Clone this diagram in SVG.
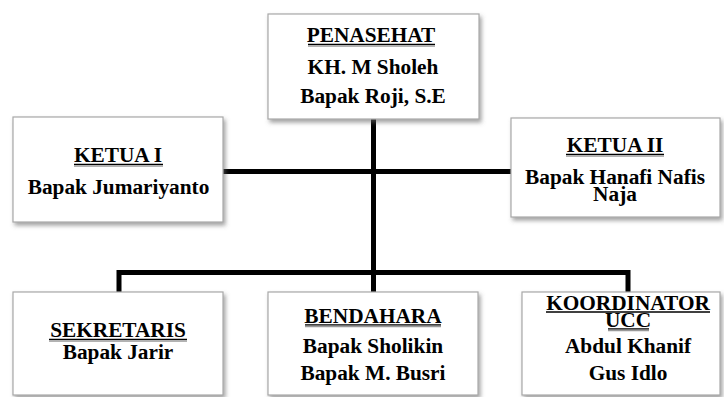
<svg xmlns="http://www.w3.org/2000/svg" width="724" height="397" viewBox="0 0 724 397">
<defs>
<filter id="sh" x="-10%" y="-10%" width="125%" height="130%">
<feDropShadow dx="2" dy="3" stdDeviation="2" flood-color="#666" flood-opacity="0.6"/>
</filter>
<style>
.box{fill:#fff;stroke:#a8a8a8;stroke-width:1.2;filter:url(#sh)}
.t{font-family:"Liberation Serif","Times New Roman",serif;font-weight:bold;font-size:20.3px;fill:#000;text-anchor:middle}
.ul{stroke:#000;stroke-width:1.3}
.us{stroke:#999;stroke-width:1.6}
.c{fill:none;stroke:#000;stroke-width:5;stroke-linejoin:miter;stroke-linecap:butt}
</style>
</defs>
<rect width="724" height="397" fill="#fff"/>
<g id="connectors">
<path class="c" d="M373.5,119 V292"/>
<path class="c" d="M223,171.5 H511"/>
<path class="c" d="M119,292 V272.5 H628 V292"/>
</g>
<g id="penasehat">
<rect class="box" x="268" y="14" width="211" height="105"/>
<text class="t" transform="translate(371,42) scale(1.05,1)">PENASEHAT</text>
<line class="us" x1="308" y1="46" x2="435" y2="46"/>
<line class="ul" x1="308" y1="44.3" x2="435" y2="44.3"/>
<text class="t" transform="translate(373,74) scale(1.05,1)">KH. M Sholeh</text>
<text class="t" transform="translate(373,103) scale(1.05,1)">Bapak Roji, S.E</text>
</g>
<g id="ketua1">
<rect class="box" x="13" y="117" width="210" height="105"/>
<text class="t" transform="translate(118,162) scale(1.05,1)">KETUA I</text>
<line class="us" x1="74" y1="166" x2="163" y2="166"/>
<line class="ul" x1="74" y1="164.3" x2="163" y2="164.3"/>
<text class="t" transform="translate(118.5,193.5) scale(1.05,1)">Bapak Jumariyanto</text>
</g>
<g id="ketua2">
<rect class="box" x="511" y="118" width="209" height="99"/>
<text class="t" transform="translate(615,152) scale(1.05,1)">KETUA II</text>
<line class="us" x1="566" y1="156" x2="664" y2="156"/>
<line class="ul" x1="566" y1="154.3" x2="664" y2="154.3"/>
<text class="t" transform="translate(615,183.5) scale(1.05,1)">Bapak Hanafi Nafis</text>
<text class="t" transform="translate(615,200.5) scale(1.05,1)">Naja</text>
</g>
<g id="sekretaris">
<rect class="box" x="13" y="292" width="210" height="103"/>
<text class="t" transform="translate(118,337) scale(1.05,1)">SEKRETARIS</text>
<line class="us" x1="49" y1="341" x2="187" y2="341"/>
<line class="ul" x1="49" y1="339.3" x2="187" y2="339.3"/>
<text class="t" transform="translate(118,359) scale(1.05,1)">Bapak Jarir</text>
</g>
<g id="bendahara">
<rect class="box" x="268" y="292" width="210" height="103"/>
<text class="t" transform="translate(373,322.5) scale(1.05,1)">BENDAHARA</text>
<line class="us" x1="305" y1="326.5" x2="441" y2="326.5"/>
<line class="ul" x1="305" y1="324.8" x2="441" y2="324.8"/>
<text class="t" transform="translate(373,352.5) scale(1.05,1)">Bapak Sholikin</text>
<text class="t" transform="translate(373,379.5) scale(1.05,1)">Bapak M. Busri</text>
</g>
<g id="koordinator">
<rect class="box" x="522" y="292" width="198" height="103"/>
<text class="t" transform="translate(628,310) scale(1.05,1)">KOORDINATOR</text>
<line class="ul" x1="546" y1="312" x2="710" y2="312"/>
<text class="t" transform="translate(628,326.5) scale(1.05,1)">UCC</text>
<line class="us" x1="608" y1="330.5" x2="649" y2="330.5"/>
<line class="ul" x1="608" y1="328.8" x2="649" y2="328.8"/>
<text class="t" transform="translate(628,352.5) scale(1.05,1)">Abdul Khanif</text>
<text class="t" transform="translate(628,379.5) scale(1.05,1)">Gus Idlo</text>
</g>
</svg>
